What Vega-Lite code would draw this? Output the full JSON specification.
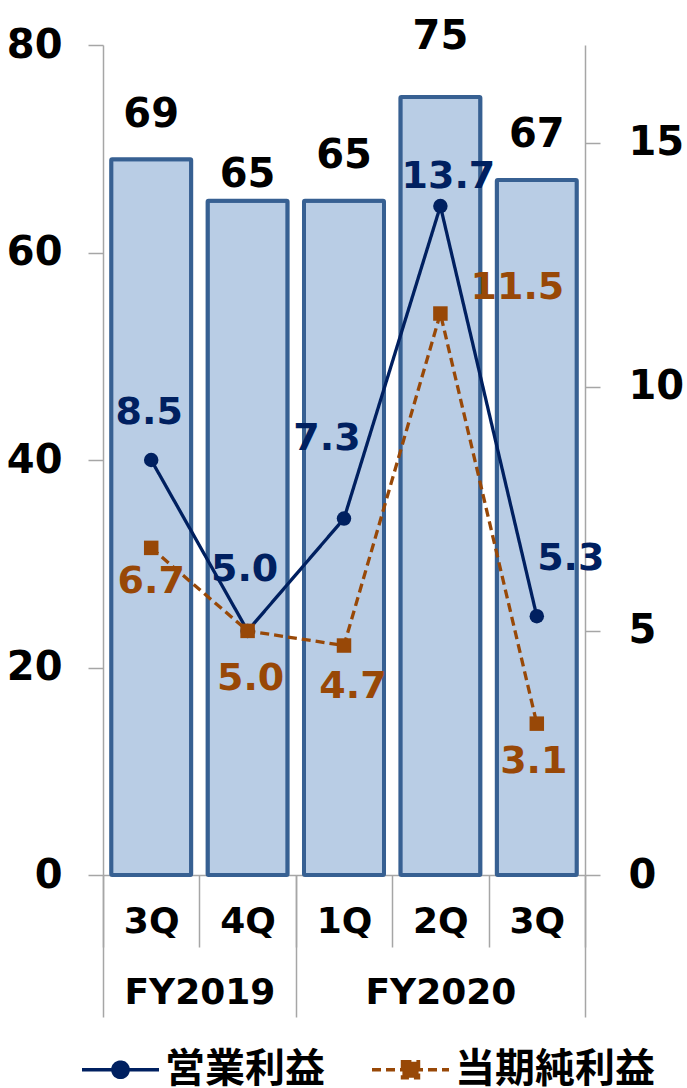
{
  "$schema": "https://vega.github.io/schema/vega-lite/v6.json",
  "width": 482,
  "height": 830,
  "autosize": {"type": "none"},
  "padding": {"left": 103, "top": 45, "right": 102, "bottom": 213},
  "background": "white",
  "config": {"view": {"stroke": null}},
  "data": {
    "values": [
      {"key": "FY2019 3Q", "sales": 69, "営業利益": 8.5, "当期純利益": 6.7},
      {"key": "FY2019 4Q", "sales": 65, "営業利益": 5.0, "当期純利益": 5.0},
      {"key": "FY2020 1Q", "sales": 65, "営業利益": 7.3, "当期純利益": 4.7},
      {"key": "FY2020 2Q", "sales": 75, "営業利益": 13.7, "当期純利益": 11.5},
      {"key": "FY2020 3Q", "sales": 67, "営業利益": 5.3, "当期純利益": 3.1}
    ]
  },
  "layer": [
    {
      "mark": {"type": "bar", "width": {"band": 0.83}, "fill": "#B9CDE5", "stroke": "#376092", "strokeWidth": 4, "strokeJoin": "round", "cornerRadius": 1},
      "encoding": {
        "x": {
          "field": "key", "type": "nominal", "sort": null,
          "scale": {"paddingInner": 0, "paddingOuter": 0},
          "axis": {
            "title": null, "orient": "bottom", "tickBand": "extent", "tickSize": 72,
            "tickColor": "#A6A6A6", "tickWidth": 1.5, "domainColor": "#A6A6A6", "domainWidth": 1.5,
            "labelExpr": "datum.value ? split(datum.value, ' ')[1] : ''",
            "labelFont": "DejaVu Sans", "labelFontWeight": "bold", "labelFontSize": 36, "labelColor": "#000000",
            "labelBaseline": "middle", "labelPadding": -26, "labelAngle": 0
          }
        },
        "y": {
          "field": "sales", "type": "quantitative",
          "scale": {"domain": [0, 80], "nice": false},
          "axis": {
            "orient": "left", "values": [0, 20, 40, 60, 80], "title": null, "grid": false,
            "tickSize": 15, "tickColor": "#A6A6A6", "tickWidth": 1.5, "domainColor": "#A6A6A6", "domainWidth": 1.5,
            "labelFont": "DejaVu Sans", "labelFontWeight": "bold", "labelFontSize": 40, "labelColor": "#000000",
            "labelPadding": 26, "labelFlush": false, "labelOverlap": false
          }
        }
      }
    },
    {
      "mark": {
        "type": "text", "font": "DejaVu Sans", "fontWeight": "bold", "fontSize": 40, "color": "#000000",
        "baseline": "alphabetic", "align": "center",
        "dy": {"expr": "datum.key === 'FY2019 4Q' ? -14 : datum.key === 'FY2020 2Q' ? -48 : datum.key === 'FY2019 3Q' ? -32 : -33"}
      },
      "encoding": {
        "x": {
          "field": "key", "type": "nominal", "sort": null,
          "axis": {
            "title": null, "orient": "bottom", "domain": false, "values": ["FY2020 3Q"],
            "tickSize": 142, "tickOffset": 48.2, "tickColor": "#A6A6A6", "tickWidth": 1.5,
            "labelExpr": "'FY2020'", "labelOffset": -144.6,
            "labelFont": "DejaVu Sans", "labelFontWeight": "bold", "labelFontSize": 36, "labelColor": "#000000",
            "labelBaseline": "middle", "labelPadding": -25, "labelAngle": 0
          }
        },
        "y": {"field": "sales", "type": "quantitative", "scale": {"domain": [0, 80], "nice": false}, "axis": null},
        "text": {"field": "sales", "type": "quantitative"}
      }
    },
    {
      "transform": [{"fold": ["営業利益", "当期純利益"], "as": ["series", "profit"]}],
      "layer": [
        {
          "mark": {"type": "line", "strokeWidth": 3.3},
          "encoding": {
            "x": {
              "field": "key", "type": "nominal", "sort": null,
              "axis": {
                "title": null, "orient": "bottom", "domain": false, "values": ["FY2019 3Q", "FY2020 1Q"],
                "tickSize": 142, "tickOffset": -48.2, "tickColor": "#A6A6A6", "tickWidth": 1.5,
                "labelExpr": "datum.value === 'FY2019 3Q' ? 'FY2019' : ''", "labelOffset": 96.4,
                "labelFont": "DejaVu Sans", "labelFontWeight": "bold", "labelFontSize": 36, "labelColor": "#000000",
                "labelBaseline": "middle", "labelPadding": -25, "labelAngle": 0
              }
            },
            "y": {
              "field": "profit", "type": "quantitative",
              "scale": {"domain": [0, 17], "nice": false},
              "axis": {
                "orient": "right", "values": [0, 5, 10, 15], "title": null, "grid": false,
                "tickSize": 15, "tickColor": "#A6A6A6", "tickWidth": 1.5, "domainColor": "#A6A6A6", "domainWidth": 1.5,
                "labelFont": "DejaVu Sans", "labelFontWeight": "bold", "labelFontSize": 40, "labelColor": "#000000",
                "labelPadding": 28, "labelFlush": false, "labelOverlap": false
              }
            },
            "color": {
              "field": "series", "type": "nominal",
              "scale": {"domain": ["営業利益", "当期純利益"], "range": ["#002060", "#984807"]},
              "legend": {
                "orient": "none", "legendX": -23, "legendY": 984, "direction": "horizontal", "title": null,
                "symbolSize": 5929, "symbolStrokeWidth": 3.3, "symbolOpacity": 1,
                "labelFont": "Noto Sans CJK JP", "labelFontWeight": "bold", "labelFontSize": 40, "labelColor": "#000000",
                "labelOffset": 4, "columnPadding": 40, "labelLimit": 400,
                "encoding": {
                  "symbols": {
                    "shape": {"condition": {"test": "datum.value === '営業利益'", "value": "M-1,0H1M0.2,0A0.2,0.2,0,1,1,-0.2,0A0.2,0.2,0,1,1,0.2,0Z"}, "value": "M-1,0H1M-0.21,-0.21H0.21V0.21H-0.21Z"},
                    "fill": {"condition": {"test": "datum.value === '営業利益'", "value": "#002060"}, "value": "#984807"}
                  }
                }
              }
            },
            "strokeDash": {
              "field": "series", "type": "nominal",
              "scale": {"domain": ["営業利益", "当期純利益"], "range": [[1, 0], [9, 5]]}
            }
          }
        },
        {
          "mark": {
            "type": "point", "filled": true, "opacity": 1, "size": 210,
            "shape": {"expr": "datum.series === '営業利益' ? 'circle' : 'square'"},
            "fill": {"expr": "datum.series === '営業利益' ? '#002060' : '#984807'"}
          },
          "encoding": {
            "x": {"field": "key", "type": "nominal", "sort": null},
            "y": {"field": "profit", "type": "quantitative"}
          }
        },
        {
          "transform": [{"filter": "datum.series === '営業利益'"}],
          "mark": {
            "type": "text", "font": "DejaVu Sans", "fontWeight": "bold", "fontSize": 38, "color": "#002060",
            "baseline": "middle", "align": "center",
            "dx": {"expr": "datum.key === 'FY2019 3Q' ? -2 : datum.key === 'FY2019 4Q' ? -3 : datum.key === 'FY2020 1Q' ? -17 : datum.key === 'FY2020 2Q' ? 8 : 34"},
            "dy": {"expr": "datum.key === 'FY2019 3Q' ? -47 : datum.key === 'FY2019 4Q' ? -61 : datum.key === 'FY2020 1Q' ? -80 : datum.key === 'FY2020 2Q' ? -29 : -57"}
          },
          "encoding": {
            "x": {"field": "key", "type": "nominal", "sort": null},
            "y": {"field": "profit", "type": "quantitative"},
            "text": {"field": "profit", "type": "quantitative", "format": ".1f"}
          }
        },
        {
          "transform": [{"filter": "datum.series === '当期純利益'"}],
          "mark": {
            "type": "text", "font": "DejaVu Sans", "fontWeight": "bold", "fontSize": 38, "color": "#984807",
            "baseline": "middle", "align": "center",
            "dx": {"expr": "datum.key === 'FY2019 3Q' ? 0 : datum.key === 'FY2019 4Q' ? 3 : datum.key === 'FY2020 1Q' ? 9 : datum.key === 'FY2020 2Q' ? 77 : -3"},
            "dy": {"expr": "datum.key === 'FY2019 3Q' ? 34 : datum.key === 'FY2019 4Q' ? 48 : datum.key === 'FY2020 1Q' ? 41 : datum.key === 'FY2020 2Q' ? -26 : 38"}
          },
          "encoding": {
            "x": {"field": "key", "type": "nominal", "sort": null},
            "y": {"field": "profit", "type": "quantitative"},
            "text": {"field": "profit", "type": "quantitative", "format": ".1f"}
          }
        }
      ]
    }
  ],
  "resolve": {"scale": {"y": "independent"}, "axis": {"x": "independent"}}
}
